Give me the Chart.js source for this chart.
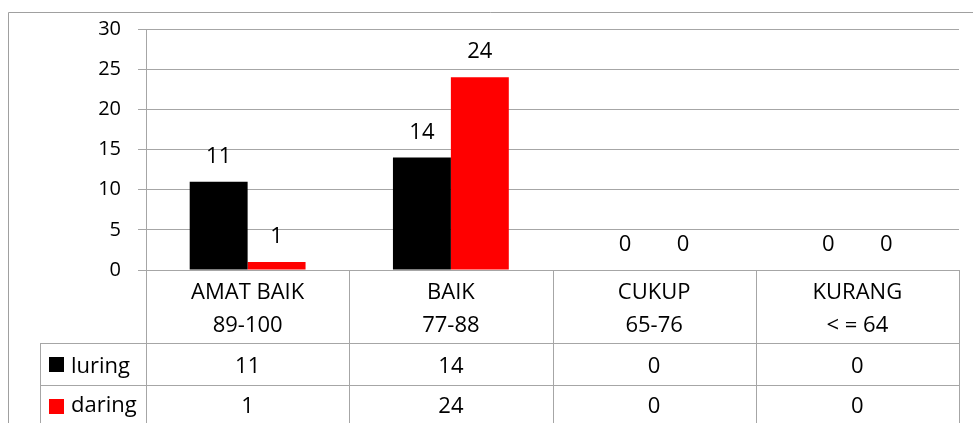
<!DOCTYPE html>
<html lang="id">
<head>
<meta charset="UTF-8">
<title>luring / daring</title>
<script src="https://cdn.jsdelivr.net/npm/chart.js"></script>
<style>
  body { margin: 0; background: #fff; }
  canvas { display: block; }
</style>
</head>
<body>
<canvas id="chart" width="973" height="423"></canvas>
<script>
// data
const categories = [['AMAT BAIK', '89-100'], ['BAIK', '77-88'], ['CUKUP', '65-76'], ['KURANG', '< = 64']];
const seriesNames = ['luring', 'daring'];
const luring = [11, 14, 0, 0];
const daring = [1, 24, 0, 0];
const seriesColors = ['#000000', '#ff0000'];
const yMin = 0, yMax = 30, yStep = 5;

const FONT = '"Open Sans", sans-serif';
const TEXT_SIZE = 22;   // table + value labels
const TICK_SIZE = 20;   // y axis
const LINE = '#a6a6a6';

// value labels above each bar
const barLabels = {
  id: 'barLabels',
  afterDatasetsDraw(chart) {
    const ctx = chart.ctx;
    ctx.save();
    ctx.font = TEXT_SIZE + 'px ' + FONT;
    ctx.fillStyle = '#000';
    ctx.textAlign = 'center';
    ctx.textBaseline = 'alphabetic';
    chart.data.datasets.forEach((ds, di) => {
      chart.getDatasetMeta(di).data.forEach((bar, i) => {
        ctx.fillText(String(ds.data[i]), bar.x, bar.y - 19);
      });
    });
    ctx.restore();
  }
};

// outer frame + data table under the plot
const dataTable = {
  id: 'dataTable',
  beforeDraw(chart) {
    const ctx = chart.ctx;
    ctx.save();
    ctx.strokeStyle = '#a0a0a0';
    ctx.lineWidth = 1;
    ctx.beginPath();
    ctx.moveTo(8.5, chart.height);
    ctx.lineTo(8.5, 12.5);
    ctx.lineTo(chart.width, 12.5);
    ctx.stroke();
    ctx.restore();
  },
  afterDraw(chart) {
    const ctx = chart.ctx;
    const x = chart.scales.x;
    const area = chart.chartArea;
    const n = categories.length;
    const cw = (area.right - area.left) / n;
    const top = area.bottom;
    const row1 = top + 73;
    const row2 = row1 + 42;
    const tableLeft = 40;
    const bottom = chart.height;
    ctx.save();
    ctx.strokeStyle = LINE;
    ctx.lineWidth = 1;
    ctx.beginPath();
    for (let i = 0; i <= n; i++) {
      const px = Math.round(area.left + i * cw) + 0.5;
      ctx.moveTo(px, top);
      ctx.lineTo(px, bottom);
    }
    ctx.moveTo(tableLeft + 0.5, row1);
    ctx.lineTo(tableLeft + 0.5, bottom);
    [row1, row2].forEach(y => {
      ctx.moveTo(tableLeft, y + 0.5);
      ctx.lineTo(Math.round(area.right) + 1, y + 0.5);
    });
    ctx.stroke();

    ctx.font = TEXT_SIZE + 'px ' + FONT;
    ctx.fillStyle = '#000';
    ctx.textAlign = 'center';
    ctx.textBaseline = 'alphabetic';
    categories.forEach((lines, i) => {
      const cx = x.getPixelForValue(i);
      ctx.fillText(lines[0], cx, top + 29);
      ctx.fillText(lines[1], cx, top + 62);
      ctx.fillText(String(luring[i]), cx, row1 + 30);
      ctx.fillText(String(daring[i]), cx, row2 + 28);
    });

    ctx.textAlign = 'left';
    [row1, row2].forEach((y, si) => {
      ctx.fillStyle = seriesColors[si];
      ctx.fillRect(49, y + 14, 15, 15);
      ctx.fillStyle = '#000';
      ctx.fillText(seriesNames[si], 71, y + (si ? 27 : 30));
    });
    ctx.restore();
  }
};

new Chart(document.getElementById('chart'), {
  type: 'bar',
  data: {
    labels: categories,
    datasets: [
      { label: seriesNames[0], data: luring, backgroundColor: seriesColors[0] },
      { label: seriesNames[1], data: daring, backgroundColor: seriesColors[1] }
    ]
  },
  options: {
    responsive: false,
    animation: false,
    devicePixelRatio: 1,
    categoryPercentage: 0.57,
    barPercentage: 1,
    layout: { padding: { left: 8, top: 29, right: 14, bottom: 153 } },
    plugins: { legend: { display: false }, tooltip: { enabled: false } },
    scales: {
      x: { display: false },
      y: {
        min: yMin,
        max: yMax,
        ticks: { stepSize: yStep, color: '#000', padding: 17, font: { family: FONT, size: TICK_SIZE } },
        grid: { color: LINE, tickLength: 8, drawTicks: true },
        border: { display: true, color: LINE },
        afterFit(scale) { scale.width = 138; }
      }
    }
  },
  plugins: [barLabels, dataTable]
});
</script>
</body>
</html>
